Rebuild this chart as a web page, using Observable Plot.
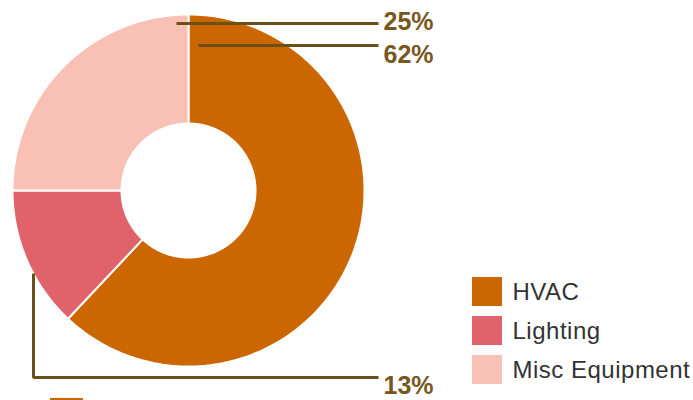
<!DOCTYPE html>
<html>
<head>
<meta charset="utf-8">
<script src="https://cdn.jsdelivr.net/npm/d3@7"></script>
<script src="https://cdn.jsdelivr.net/npm/@observablehq/plot@0.6"></script>
<style>
  html, body { margin: 0; padding: 0; background: #fff; }
  #chart svg { display: block; }
</style>
</head>
<body>
<div id="chart"></div>
<script>
// ---- data ----
const categories = ["HVAC", "Lighting", "Misc Equipment"];
const shares = [62, 13, 25];
const colors = ["#cc6600", "#e0636b", "#f9c1b5"];
const shareLabels = ["62%", "13%", "25%"];

// ---- layout ----
const W = 693, H = 400;
const cx = 188, cy = 190, R = 176, R0 = 67;
const lineColor = "#6b501a";
const labelColor = "#77571e";

const slices = categories.map((c, i) => ({name: c, share: shares[i], label: shareLabels[i]}));
const arcs = d3.pie().sort(null).value(d => d.share)(slices);

// polygon outline of each donut slice
const pts = [];
const N = 160;
arcs.forEach(a => {
  const key = a.data.name;
  for (let k = 0; k <= N; k++) {
    const t = a.startAngle + (a.endAngle - a.startAngle) * k / N;
    pts.push({key, x: cx + R * Math.sin(t), y: cy - R * Math.cos(t)});
  }
  for (let k = N; k >= 0; k--) {
    const t = a.startAngle + (a.endAngle - a.startAngle) * k / N;
    pts.push({key, x: cx + R0 * Math.sin(t), y: cy - R0 * Math.cos(t)});
  }
});

// leader lines (label positions)
const leaders = [
  {key: "Misc Equipment", path: [[176, 23], [378, 23]], tx: 383, ty: 21.5},
  {key: "HVAC", path: [[198, 45], [378, 45]], tx: 383, ty: 54.5},
  {key: "Lighting", path: [[33, 273], [33, 377], [378, 377]], tx: 383, ty: 385}
];
const leaderPts = leaders.flatMap(l => l.path.map(([x, y]) => ({key: l.key, x, y})));
const leaderText = leaders.map(l => ({x: l.tx, y: l.ty, text: slices.find(s => s.name === l.key).label}));

// legend
const legend = categories.map((c, i) => ({name: c, y1: 277 + i * 39, y2: 306 + i * 39}));

const chart = Plot.plot({
  width: W,
  height: H,
  margin: 0,
  x: {domain: [0, W], range: [0, W], axis: null},
  y: {domain: [0, H], range: [0, H], axis: null},
  color: {domain: categories, range: colors},
  style: {fontFamily: "'Liberation Sans', Arial, sans-serif", background: "#fff"},
  marks: [
    Plot.line(pts, {x: "x", y: "y", z: "key", fill: "key", stroke: "#fff", strokeWidth: 2, curve: "linear-closed"}),
    Plot.line(leaderPts, {x: "x", y: "y", z: "key", stroke: lineColor, strokeWidth: 3, strokeLinejoin: "miter", strokeLinecap: "butt"}),
    Plot.text(leaderText, {x: "x", y: "y", text: "text", textAnchor: "start", fontSize: 25, fontWeight: "bold", fill: labelColor}),
    Plot.rect(legend, {x1: 472, x2: 502, y1: "y1", y2: "y2", fill: "name"}),
    Plot.text(legend, {x: 512, y: d => (d.y1 + d.y2) / 2 + 0.5, text: "name", textAnchor: "start", fontSize: 24, fill: "#333", style: "letter-spacing: 0.5px"}),
    Plot.rect([{name: categories[0]}], {x1: 50, x2: 83, y1: 398, y2: 400, fill: "name"})
  ]
});
chart.querySelectorAll("g[aria-label='text'] text").forEach(t => {});
document.getElementById("chart").append(chart);
// letter spacing for legend labels
const textGroups = chart.querySelectorAll("g[aria-label='text']");
if (textGroups.length > 1) textGroups[1].setAttribute("letter-spacing", "0.5");
</script>
</body>
</html>
